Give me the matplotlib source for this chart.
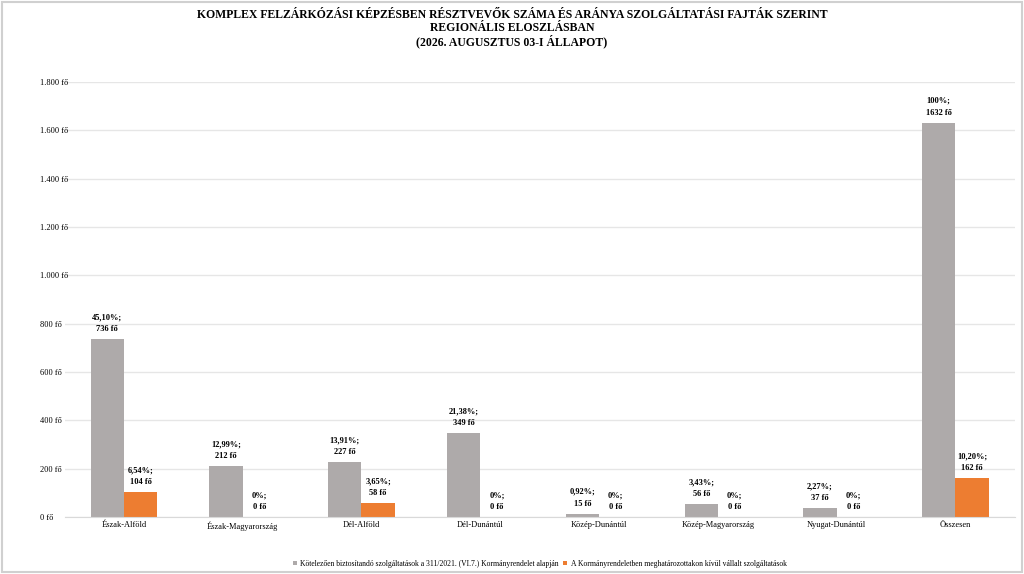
import matplotlib.pyplot as plt
import numpy as np

categories = ["Észak-Alföld", "Észak-Magyarország", "Dél-Alföld", "Dél-Dunántúl",
              "Közép-Dunántúl", "Közép-Magyarország", "Nyugat-Dunántúl", "Összesen"]
mandatory = [736, 212, 227, 349, 15, 56, 37, 1632]
mandatory_pct = ["45,10%", "12,99%", "13,91%", "21,38%", "0,92%", "3,43%", "2,27%", "100%"]
extra = [104, 0, 58, 0, 0, 0, 0, 162]
extra_pct = ["6,54%", "0%", "3,65%", "0%", "0%", "0%", "0%", "10,20%"]
yticks = [0, 200, 400, 600, 800, 1000, 1200, 1400, 1600, 1800]
ytick_labels = ["0 fő", "200 fő", "400 fő", "600 fő", "800 fő", "1.000 fő",
                "1.200 fő", "1.400 fő", "1.600 fő", "1.800 fő"]

plt.rcParams["font.family"] = ["Liberation Serif", "DejaVu Serif"]

fig = plt.figure(figsize=(10.24, 5.74), dpi=100)
fig.patches.append(plt.Rectangle((0.002, 0.003), 0.996, 0.994, transform=fig.transFigure,
                                 fill=False, edgecolor="#d0d0d0", linewidth=1.5))
ax = fig.add_axes([0.063, 0.099, 0.928, 0.758])

x = np.arange(len(categories))
w = 0.28
off = 0.14
ax.bar(x - off, mandatory, w, color="#aeaaaa", zorder=2,
       label="Kötelezően biztosítandó szolgáltatások a 311/2021. (VI.7.) Kormányrendelet alapján")
ax.bar(x + off, extra, w, color="#ed7d31", zorder=2,
       label="A Kormányrendeletben meghatározottakon kívül vállalt szolgáltatások")

for i in range(len(categories)):
    ax.text(x[i] - off, mandatory[i] + 25, f"{mandatory_pct[i]};\n{mandatory[i]} fő",
            ha="center", va="bottom", fontsize=6, fontweight="bold", linespacing=1.6)
    ax.text(x[i] + off, extra[i] + 25, f"{extra_pct[i]};\n{extra[i]} fő",
            ha="center", va="bottom", fontsize=6, fontweight="bold", linespacing=1.6)

ax.set_xlim(-0.5, len(categories) - 0.5)
ax.set_ylim(0, 1800)
ax.set_yticks(yticks)
ax.set_yticklabels(ytick_labels, fontsize=6)
ax.set_xticks(x)
ax.set_xticklabels(categories, fontsize=6)
ax.tick_params(length=0, pad=3)
ax.grid(axis="y", color="#e6e6e6", linewidth=1, zorder=0)
for s in ["top", "right", "left"]:
    ax.spines[s].set_visible(False)
ax.spines["bottom"].set_color("#d9d9d9")
ax.yaxis.set_tick_params(pad=-2)
for lbl in ax.get_yticklabels():
    lbl.set_horizontalalignment("left")
    lbl.set_x(-0.062 / 0.928 + 0.035 / 0.928)

fig.text(0.5, 0.985, "KOMPLEX FELZÁRKÓZÁSI KÉPZÉSBEN RÉSZTVEVŐK SZÁMA ÉS ARÁNYA SZOLGÁLTATÁSI FAJTÁK SZERINT\n"
         "REGIONÁLIS ELOSZLÁSBAN\n(2026. AUGUSZTUS 03-I ÁLLAPOT)",
         ha="center", va="top", fontsize=8.5, fontweight="bold", linespacing=1.1)

ax.legend(loc="upper center", bbox_to_anchor=(0.5, -0.082), ncol=2, frameon=False,
          fontsize=5.5, handlelength=0.6, handleheight=0.6, columnspacing=0.5, handletextpad=0.4)

fig.savefig("out.png", dpi=100)
